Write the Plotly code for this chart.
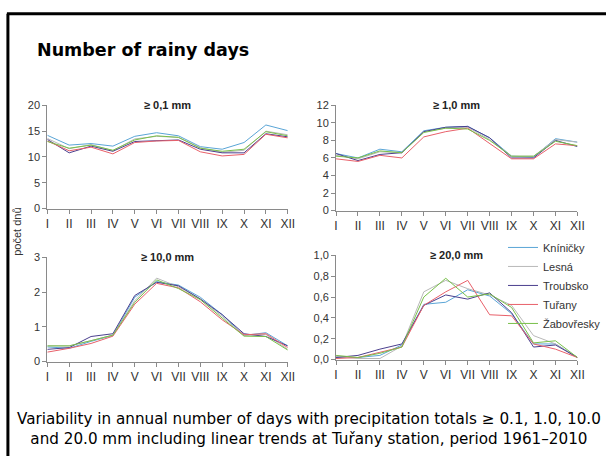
import plotly.graph_objects as go

W, H = 613, 462

months = ["I", "II", "III", "IV", "V", "VI", "VII", "VIII", "IX", "X", "XI", "XII"]
stations = ["Kníničky", "Lesná", "Troubsko", "Tuřany", "Žabovřesky"]
colors = ["#5aa5d6", "#b8b8b8", "#4b3f8e", "#e8606a", "#79c04a"]

# >= 0.1 mm
d01_kninicky = [14.2, 12.3, 12.6, 12.1, 14.0, 14.7, 14.1, 12.0, 11.5, 12.8, 16.2, 15.1]
d01_lesna = [13.6, 11.6, 12.4, 11.2, 13.5, 14.0, 13.8, 11.8, 10.9, 11.3, 15.0, 14.3]
d01_troubsko = [13.4, 10.8, 12.1, 11.1, 13.0, 13.2, 13.3, 11.5, 10.8, 10.8, 14.5, 13.9]
d01_turany = [13.1, 11.2, 11.9, 10.6, 12.8, 13.1, 13.2, 11.0, 10.2, 10.5, 14.4, 13.7]
d01_zabovresky = [13.0, 11.7, 12.3, 11.3, 13.3, 14.1, 13.8, 11.7, 11.1, 11.5, 14.9, 14.1]

# >= 1.0 mm
d1_kninicky = [6.5, 6.0, 7.0, 6.7, 9.1, 9.5, 9.6, 8.3, 6.2, 6.1, 8.2, 7.8]
d1_lesna = [6.3, 5.9, 6.7, 6.6, 9.0, 9.4, 9.5, 8.1, 6.2, 6.2, 8.1, 7.8]
d1_troubsko = [6.5, 5.7, 6.4, 6.6, 9.0, 9.5, 9.6, 8.3, 6.0, 6.0, 8.0, 7.3]
d1_turany = [5.9, 5.6, 6.3, 6.0, 8.4, 9.0, 9.4, 7.6, 5.9, 5.9, 7.6, 7.4]
d1_zabovresky = [6.2, 6.0, 6.8, 6.6, 8.9, 9.4, 9.3, 8.0, 6.2, 6.2, 7.9, 7.4]

# >= 10.0 mm
d10_kninicky = [0.42, 0.38, 0.58, 0.75, 1.85, 2.30, 2.20, 1.85, 1.35, 0.75, 0.83, 0.45]
d10_lesna = [0.45, 0.45, 0.60, 0.76, 1.75, 2.40, 2.15, 1.80, 1.30, 0.75, 0.78, 0.35]
d10_troubsko = [0.35, 0.40, 0.72, 0.80, 1.90, 2.28, 2.18, 1.80, 1.35, 0.80, 0.72, 0.45]
d10_turany = [0.27, 0.38, 0.52, 0.73, 1.65, 2.25, 2.12, 1.72, 1.20, 0.77, 0.80, 0.40]
d10_zabovresky = [0.45, 0.45, 0.60, 0.76, 1.70, 2.35, 2.10, 1.78, 1.25, 0.73, 0.72, 0.33]

# >= 20.0 mm
d20_kninicky = [0.02, 0.02, 0.04, 0.14, 0.53, 0.55, 0.67, 0.61, 0.44, 0.15, 0.15, 0.02]
d20_lesna = [0.03, 0.01, 0.01, 0.13, 0.65, 0.76, 0.68, 0.62, 0.52, 0.23, 0.15, 0.02]
d20_troubsko = [0.02, 0.04, 0.10, 0.15, 0.52, 0.62, 0.58, 0.64, 0.45, 0.12, 0.14, 0.02]
d20_turany = [0.01, 0.02, 0.07, 0.12, 0.52, 0.65, 0.76, 0.43, 0.42, 0.15, 0.10, 0.02]
d20_zabovresky = [0.04, 0.02, 0.06, 0.12, 0.60, 0.78, 0.60, 0.63, 0.50, 0.16, 0.18, 0.02]

panels = [
    ("≥ 0,1 mm", [d01_kninicky, d01_lesna, d01_troubsko, d01_turany, d01_zabovresky],
     [0, 5, 10, 15, 20], ["0", "5", "10", "15", "20"]),
    ("≥ 1,0 mm", [d1_kninicky, d1_lesna, d1_troubsko, d1_turany, d1_zabovresky],
     [0, 2, 4, 6, 8, 10, 12], ["0", "2", "4", "6", "8", "10", "12"]),
    ("≥ 10,0 mm", [d10_kninicky, d10_lesna, d10_troubsko, d10_turany, d10_zabovresky],
     [0, 1, 2, 3], ["0", "1", "2", "3"]),
    ("≥ 20,0 mm", [d20_kninicky, d20_lesna, d20_troubsko, d20_turany, d20_zabovresky],
     [0, 0.2, 0.4, 0.6, 0.8, 1.0], ["0,0", "0,2", "0,4", "0,6", "0,8", "1,0"]),
]

# pixel boxes (left, right, top, bottom)
boxes = [(46, 290, 102, 208), (339, 584, 102, 210), (46, 290, 258, 365), (339, 584, 256, 363)]


def px(x):
    return x / W


def py(y):
    return 1 - y / H


fig = go.Figure()
layout = {}
annotations = []
for i, (title, series, tv, tt) in enumerate(panels):
    n = i + 1
    xa = "x" if n == 1 else f"x{n}"
    ya = "y" if n == 1 else f"y{n}"
    for s, (name, vals) in enumerate(zip(stations, series)):
        fig.add_trace(go.Scatter(
            x=list(range(12)), y=vals, mode="lines", name=name,
            line=dict(color=colors[s], width=1),
            xaxis=xa, yaxis=ya, showlegend=(n == 4),
        ))
    l, r, t, b = boxes[i]
    layout[f"xaxis{'' if n == 1 else n}"] = dict(
        domain=[px(l), px(r)], anchor=ya, range=[0, 11],
        tickvals=list(range(12)), ticktext=months,
        showline=True, linecolor="#8a8a8a", linewidth=1,
        ticks="outside", ticklen=4, tickcolor="#8a8a8a",
        showgrid=False, zeroline=False,
        tickfont=dict(family="Liberation Sans, Arial", size=12, color="#333333"),
    )
    layout[f"yaxis{'' if n == 1 else n}"] = dict(
        domain=[py(b), py(t)], anchor=xa, range=[tv[0], tv[-1]],
        tickvals=tv, ticktext=tt,
        showline=True, linecolor="#8a8a8a", linewidth=1,
        ticks="outside", ticklen=4, tickcolor="#8a8a8a",
        showgrid=False, zeroline=False,
        tickfont=dict(family="Liberation Sans, Arial", size=11, color="#333333"),
    )
    annotations.append(dict(
        text=f"<b>{title}</b>", xref="paper", yref="paper",
        x=px((l + r) / 2), y=py(t), xanchor="center", yanchor="middle",
        showarrow=False,
        font=dict(family="Liberation Sans, Arial", size=11, color="#222222"),
    ))

annotations.append(dict(
    text="<b>Number of rainy days</b>", xref="paper", yref="paper",
    x=px(33), y=py(45), xanchor="left", yanchor="middle", showarrow=False,
    font=dict(family="DejaVu Sans", size=17.5, color="#000000"),
))
annotations.append(dict(
    text="počet dnů", xref="paper", yref="paper",
    x=px(15), y=py(232), xanchor="center", yanchor="middle", showarrow=False,
    textangle=-90,
    font=dict(family="Liberation Sans, Arial", size=11, color="#333333"),
))
annotations.append(dict(
    text="Variability in annual number of days with precipitation totals ≥ 0.1, 1.0, 10.0<br>"
         "and 20.0 mm including linear trends at Tuřany station, period 1961–2010",
    xref="paper", yref="paper",
    x=px(312), y=py(434), xanchor="center", yanchor="middle", showarrow=False,
    align="center",
    font=dict(family="DejaVu Sans", size=15.2, color="#000000"),
))

shapes = [
    dict(type="line", xref="paper", yref="paper", x0=px(6), x1=px(6), y0=0, y1=py(8),
         line=dict(color="#000000", width=3)),
    dict(type="line", xref="paper", yref="paper", x0=px(5), x1=1, y0=py(8), y1=py(8),
         line=dict(color="#000000", width=3)),
]

fig.update_layout(
    width=W, height=H, autosize=False,
    margin=dict(l=0, r=0, t=0, b=0),
    paper_bgcolor="white", plot_bgcolor="white",
    annotations=annotations, shapes=shapes,
    legend=dict(x=1, y=py(233), xanchor="right", yanchor="top",
                bgcolor="rgba(0,0,0,0)", itemwidth=30,
                font=dict(family="Liberation Sans, Arial", size=11, color="#333333")),
    **layout,
)

fig.write_html("out.html", config={"displayModeBar": False, "responsive": False},
               post_script="document.body.style.margin='0';document.body.style.overflow='hidden';")
